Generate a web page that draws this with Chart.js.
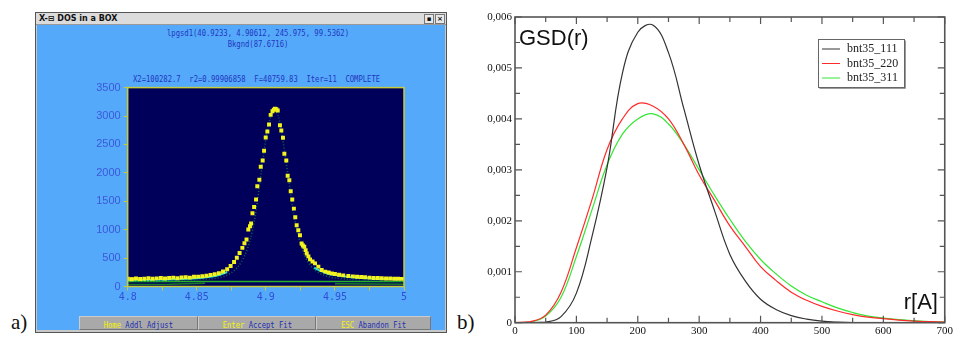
<!DOCTYPE html>
<html>
<head>
<meta charset="utf-8">
<script src="https://cdn.jsdelivr.net/npm/chart.js@4.4.1/dist/chart.umd.min.js"></script>
<style>
  body { margin: 0; width: 955px; height: 338px; background: #fff; position: relative; overflow: hidden; }
  .abs { position: absolute; }
  #win { left: 35px; top: 12px; width: 410px; height: 319px; border: 1px solid #555; background: #c8c8c8; }
  #titlebar { left: 0; top: 0; width: 410px; height: 11px; background: #dcdcdc; border-bottom: 1px solid #999;
              font: bold 8px "DejaVu Sans", sans-serif; line-height: 11px; color: #111; }
  #titlebar .t { left: 3px; top: 0; }
  .wbtn { top: 1px; width: 8px; height: 8px; border: 1px solid #777; background: #e8e8e8;
          font: bold 7px "DejaVu Sans", sans-serif; line-height: 8px; text-align: center; color: #111; }
  #body { left: 1px; top: 12px; width: 408px; height: 305px; background: #55a9fa; }
  .dos { font: 9px "DejaVu Sans Mono", monospace; color: #2036c0; white-space: pre; transform: scaleX(0.8); }
  .btn { top: 291px; height: 14px; background: #a9a9a9; border: 1px solid #777; border-top-color: #ccc; border-left-color: #ccc;
         box-sizing: border-box; text-align: center; line-height: 12px; }
  .btn span.k { color: #f4f400; }
  .btn span.l { color: #1f2fb0; }
  .lbl { font: 21px "Liberation Serif", serif; color: #111; }
</style>
</head>
<body>

<div id="win" class="abs">
  <div id="titlebar" class="abs">
    <div class="abs t">X-&#8863; DOS in a BOX</div>
    <div class="abs wbtn" style="left:388px;">&#9642;</div>
    <div class="abs wbtn" style="left:399px;">&#215;</div>
  </div>
  <div id="body" class="abs">
    <div class="abs dos" style="left:0; width:444px; top:3px; text-align:center; margin-left:-1px;">lpgsd1(40.9233, 4.90612, 245.975, 99.5362)</div>
    <div class="abs dos" style="left:0; width:444px; top:14px; text-align:center; margin-left:-1px;">Bkgnd(87.6716)</div>
    <div class="abs dos" style="left:96px; top:49px; transform-origin:left center;">X2=100282.7  r2=0.99906858  F=40759.83  Iter=11  COMPLETE</div>
    <div class="abs btn" style="left:42px; width:119px;"><span class="dos" style="display:inline-block;"><span class="k">Home</span><span class="l"> Addl Adjust</span></span></div>
    <div class="abs btn" style="left:161px; width:118px;"><span class="dos" style="display:inline-block;"><span class="k">Enter</span><span class="l"> Accept Fit</span></span></div>
    <div class="abs btn" style="left:279px; width:115px;"><span class="dos" style="display:inline-block;"><span class="k">ESC</span><span class="l"> Abandon Fit</span></span></div>
  </div>
</div>

<div class="abs" style="left:62px; top:78px; width:352px; height:232px;">
  <canvas id="dosChart" width="352" height="232"></canvas>
</div>

<div class="abs" style="left:480px; top:0; width:475px; height:338px;">
  <canvas id="gsdChart" width="475" height="338"></canvas>
</div>

<div class="abs lbl" style="left:11px; top:310px;">a)</div>
<div class="abs lbl" style="left:457px; top:310px;">b)</div>

<script>
// ---- panel a) : fit window data ----
const pointX = [4.800, 4.803, 4.806, 4.809, 4.812, 4.815, 4.818, 4.821, 4.824, 4.827,
  4.830, 4.833, 4.836, 4.839, 4.842, 4.845, 4.848, 4.851, 4.854, 4.857,
  4.860, 4.863, 4.866, 4.869, 4.872, 4.8745, 4.877, 4.879, 4.881, 4.883,
  4.8845, 4.886, 4.8873, 4.8885, 4.8893, 4.8903, 4.8915, 4.8929, 4.8938, 4.8953,
  4.8963, 4.8977, 4.8987, 4.8999, 4.9011, 4.9023, 4.9035, 4.9048, 4.9058, 4.9066,
  4.9076, 4.9086, 4.9102, 4.9112, 4.9124, 4.9134, 4.9148, 4.9158, 4.9170, 4.9180,
  4.9191, 4.9203, 4.9213, 4.9223, 4.9235, 4.9247, 4.9259, 4.9268, 4.9278, 4.9288,
  4.9296, 4.9308, 4.9320, 4.9338, 4.9356, 4.9380, 4.9404, 4.9430, 4.9455, 4.9477,
  4.9500, 4.9530, 4.9560, 4.9597, 4.9630, 4.9660, 4.9690, 4.9718, 4.9750, 4.9780,
  4.9810, 4.9839, 4.9870, 4.9900, 4.9930, 4.9957, 4.9985];
const pointY = [135, 128, 141, 132, 138, 146, 136, 143, 151, 140,
  149, 156, 147, 159, 163, 156, 170, 174, 182, 190,
  203, 214, 233, 265, 302, 360, 430, 505, 590, 680,
  760, 828, 1003, 1060, 1108, 1290, 1400, 1530, 1763, 1880,
  2108, 2219, 2389, 2622, 2727, 2850, 3020, 3085, 3112, 3126,
  3120, 3096, 2838, 2745, 2617, 2336, 2219, 1950, 1868, 1675,
  1530, 1370, 1220, 1078, 990, 903, 757, 720, 698, 640,
  582, 530, 477, 440, 407, 350, 289, 262, 245, 231,
  220, 208, 196, 184, 178, 170, 166, 161, 156, 151,
  148, 144, 141, 139, 137, 137, 134];

const fitX = [4.80, 4.82, 4.84, 4.85, 4.86, 4.865, 4.87, 4.875, 4.88, 4.885, 4.889, 4.892, 4.895, 4.898,
  4.901, 4.903, 4.905, 4.906, 4.907, 4.909, 4.911, 4.914, 4.917, 4.920, 4.923, 4.926, 4.930,
  4.935, 4.940, 4.945, 4.950, 4.960, 4.970, 4.980, 4.990, 5.000];
const fitY = [95, 100, 110, 118, 135, 150, 180, 240, 350, 560, 850, 1200, 1700, 2250,
  2750, 2950, 3080, 3100, 3090, 3000, 2780, 2300, 1800, 1300, 950, 680, 450,
  300, 220, 175, 150, 125, 112, 105, 100, 97];

const cyanX = [4.800, 4.810, 4.820, 4.830, 4.840, 4.850, 4.860, 4.866, 4.872, 4.900,
  4.935, 4.940, 4.945, 4.950, 4.960, 4.970, 4.980, 4.990, 5.000];
const cyanY = [112, 115, 118, 124, 132, 145, 170, 200, 255, null,
  330, 270, 225, 200, 168, 150, 138, 130, 126];

const bkgX = [4.8, 5.0];
const bkgY = [88, 88];

const lowX = [4.800, 4.830, 4.856, 4.900, 4.950, 4.975, 5.000];
const lowY = [35, 38, 55, null, 50, 42, 40];

const edgeX = [4.800, 4.806, 4.900, 4.991, 5.000];
const edgeY = [142, 140, null, 140, 142];

const dosYTicks = [0, 500, 1000, 1500, 2000, 2500, 3000, 3500];

// ---- panel b) : GSD(r) curves ----
const rValues = [0, 25, 50, 75, 100, 125, 150, 175, 200, 225, 250, 275, 300, 325, 350,
  375, 400, 425, 450, 475, 500, 525, 550, 575, 600, 625, 650, 675, 700];
const gsd111 = [0, 0, 0.00001, 0.00012, 0.00058, 0.00167, 0.00305, 0.0049, 0.0057, 0.00584,
  0.0053, 0.0042, 0.0031, 0.0022, 0.00134, 0.00082, 0.00046, 0.00026, 0.00014, 0.00007,
  0.00003, 0.00001, 0, 0, 0, 0, 0, 0, 0];
const gsd220 = [0, 0.00002, 0.00015, 0.0006, 0.00147, 0.0024, 0.0034, 0.0040, 0.0043, 0.00425,
  0.0040, 0.0035, 0.0029, 0.0024, 0.0019, 0.0015, 0.0011, 0.00083, 0.0006, 0.00044,
  0.00032, 0.00023, 0.00016, 0.00011, 0.00008, 0.00005, 0.00003, 0.00002, 0.00001];
const gsd311 = [0, 0.00001, 0.00013, 0.0005, 0.0013, 0.0022, 0.0031, 0.0037, 0.0040, 0.0041,
  0.0039, 0.0035, 0.0030, 0.0025, 0.00203, 0.0016, 0.00124, 0.00096, 0.00072, 0.00054,
  0.00041, 0.00029, 0.0002, 0.00013, 0.00009, 0.00006, 0.00004, 0.00002, 0.00001];
const seriesNames = ['bnt35_111', 'bnt35_220', 'bnt35_311'];
const seriesColors = ['#333333', '#ff2a2a', '#33e633'];

function pairs(xs, ys) {
    return xs.map((x, i) => ({ x: x, y: ys[i] }));
}

// navy plot background + yellow frame for the DOS chart
const dosFrame = {
    id: 'dosFrame',
    beforeDatasetsDraw(chart) {
        const a = chart.chartArea;
        chart.ctx.save();
        chart.ctx.fillStyle = '#00005a';
        chart.ctx.fillRect(a.left, a.top, a.width, a.height);
        chart.ctx.restore();
    },
    afterDraw(chart) {
        const a = chart.chartArea, ctx = chart.ctx;
        ctx.save();
        ctx.strokeStyle = '#c8cc3a';
        ctx.lineWidth = 1.5;
        ctx.strokeRect(a.left, a.top, a.width, a.height);
        ctx.restore();
    }
};

const dosChart = new Chart(document.getElementById('dosChart').getContext('2d'), {
    type: 'scatter',
    data: {
        datasets: [
            { data: pairs(pointX, pointY), pointStyle: 'rect', pointRadius: 2.8,
              backgroundColor: '#f2f21e', borderWidth: 0, showLine: false },
            { data: pairs(fitX, fitY), showLine: true, pointRadius: 0, borderColor: '#0e6a52',
              borderWidth: 1.5, borderDash: [1, 2], tension: 0.3 },
            { data: pairs(cyanX, cyanY), showLine: true, pointRadius: 0, borderColor: '#22e0d8',
              borderWidth: 2, spanGaps: false, tension: 0.3 },
            { data: pairs(edgeX, edgeY), showLine: true, pointRadius: 0, borderColor: '#b8620e',
              borderWidth: 3, spanGaps: false },
            { data: pairs(bkgX, bkgY), showLine: true, pointRadius: 0, borderColor: '#28b028',
              borderWidth: 1.5 },
            { data: pairs(lowX, lowY), showLine: true, pointRadius: 0, borderColor: '#167a2a',
              borderWidth: 1.5, spanGaps: false }
        ]
    },
    options: {
        responsive: false,
        animation: false,
        layout: { padding: { top: 8.5, right: 10, bottom: 0, left: 0 } },
        scales: {
            x: {
                type: 'linear',
                min: 4.8,
                max: 5,
                afterFit: function(scale) { scale.height = 23.5; },
                ticks: {
                    stepSize: 0.025,
                    color: '#2f4fd8',
                    padding: 1,
                    maxRotation: 0,
                    autoSkip: false,
                    font: { size: 10, family: "'DejaVu Sans Mono', monospace" },
                    callback: function(v, i) { return i % 2 ? '' : String(+v.toFixed(3)); }
                },
                grid: { drawOnChartArea: false, drawTicks: true, tickLength: 4, color: '#c8cc3a' },
                border: { display: false }
            },
            y: {
                min: 0,
                max: 3500,
                afterFit: function(scale) { scale.width = 65.7; },
                afterBuildTicks: function(scale) { scale.ticks = dosYTicks.map(v => ({ value: v })); },
                ticks: {
                    color: '#3a5ad8',
                    padding: 3,
                    font: { size: 11, family: "'Liberation Sans', sans-serif" },
                    callback: function(v) { return String(v); }
                },
                grid: { drawOnChartArea: false, drawTicks: true, tickLength: 4, color: '#c8cc3a' },
                border: { display: false }
            }
        },
        plugins: {
            legend: { display: false },
            tooltip: { enabled: false }
        }
    },
    plugins: [dosFrame]
});

// inward ticks on all four sides, frame, titles and legend box for panel b)
const gsdFrame = {
    id: 'gsdFrame',
    afterDatasetsDraw(chart) {
        const ctx = chart.ctx, a = chart.chartArea;
        const x = chart.scales.x, y = chart.scales.y;
        ctx.save();
        ctx.strokeStyle = '#555';
        ctx.lineWidth = 1.2;
        ctx.beginPath();
        for (let v = 0; v <= 700; v += 50) {
            const px = x.getPixelForValue(v);
            const len = v % 100 ? 5 : 7;
            ctx.moveTo(px, a.bottom); ctx.lineTo(px, a.bottom - len);
            ctx.moveTo(px, a.top); ctx.lineTo(px, a.top + len);
        }
        for (let k = 0; k <= 12; k++) {
            const py = y.getPixelForValue(k * 0.0005);
            const len = k % 2 ? 5 : 7;
            ctx.moveTo(a.left, py); ctx.lineTo(a.left + len, py);
            ctx.moveTo(a.right, py); ctx.lineTo(a.right - len, py);
        }
        ctx.stroke();
        ctx.lineWidth = 1.6;
        ctx.strokeRect(a.left, a.top, a.width, a.height);

        ctx.fillStyle = '#111';
        ctx.font = "22px 'Liberation Sans', sans-serif";
        ctx.textBaseline = 'alphabetic';
        ctx.fillText('GSD(r)', a.left + 4, a.top + 28);
        ctx.fillText('r[A]', a.right - 41, a.bottom - 14);

        // legend box
        const lx = 338, ly = 39, lw = 86, lh = 48;
        ctx.fillStyle = '#fff';
        ctx.fillRect(lx, ly, lw, lh);
        ctx.strokeStyle = '#666';
        ctx.lineWidth = 1;
        ctx.strokeRect(lx + 0.5, ly + 0.5, lw, lh);
        ctx.strokeStyle = '#999';
        ctx.beginPath();
        ctx.moveTo(lx + 1.5, ly + lh + 1.5); ctx.lineTo(lx + lw + 1.5, ly + lh + 1.5); ctx.lineTo(lx + lw + 1.5, ly + 1.5);
        ctx.stroke();
        ctx.font = "12px 'Liberation Serif', serif";
        ctx.textBaseline = 'middle';
        chart.data.datasets.forEach((ds, i) => {
            const ry = ly + 10 + i * 14.5;
            ctx.strokeStyle = ds.borderColor;
            ctx.lineWidth = 1;
            ctx.beginPath();
            ctx.moveTo(lx + 4, ry); ctx.lineTo(lx + 22, ry);
            ctx.stroke();
            ctx.fillStyle = '#222';
            ctx.fillText(ds.label, lx + 29, ry);
        });
        ctx.restore();
    }
};

const gsdChart = new Chart(document.getElementById('gsdChart').getContext('2d'), {
    type: 'scatter',
    data: {
        datasets: [gsd111, gsd220, gsd311].map((vals, i) => ({
            label: seriesNames[i],
            data: pairs(rValues, vals),
            showLine: true,
            pointRadius: 0,
            borderColor: seriesColors[i],
            borderWidth: 1.2,
            tension: 0.4
        }))
    },
    options: {
        responsive: false,
        animation: false,
        layout: { padding: { top: 17, right: 8, bottom: 0, left: 0 } },
        scales: {
            x: {
                type: 'linear',
                min: 0,
                max: 700,
                afterFit: function(scale) { scale.height = 15.3; },
                ticks: {
                    stepSize: 100,
                    color: '#111',
                    padding: 2,
                    maxRotation: 0,
                    font: { size: 11, family: "'Liberation Serif', serif" }
                },
                grid: { display: false, drawTicks: false },
                border: { display: false }
            },
            y: {
                min: 0,
                max: 0.006,
                afterFit: function(scale) { scale.width = 35; },
                ticks: {
                    stepSize: 0.001,
                    color: '#111',
                    padding: 3,
                    font: { size: 11, family: "'Liberation Serif', serif" },
                    callback: function(v) { return v === 0 ? '0' : v.toFixed(3).replace('.', ','); }
                },
                grid: { display: false, drawTicks: false },
                border: { display: false }
            }
        },
        plugins: {
            legend: { display: false },
            tooltip: { enabled: false }
        }
    },
    plugins: [gsdFrame]
});
</script>
</body>
</html>
